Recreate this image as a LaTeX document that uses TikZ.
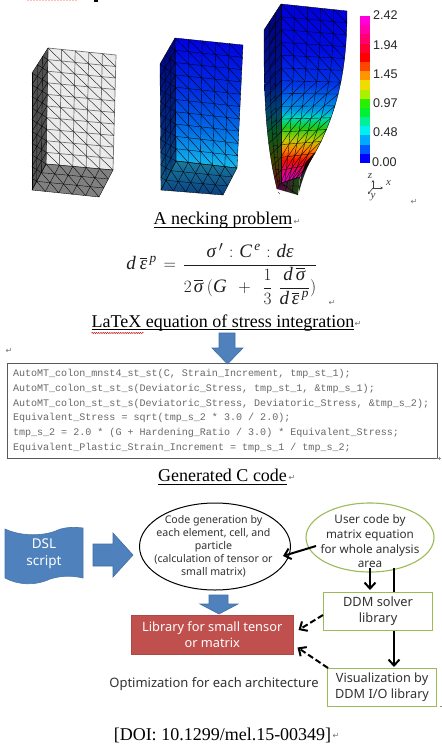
\documentclass[tikz,border=0pt]{standalone}
\usepackage{fontspec}
\usepackage{amsmath}
\setmainfont{Liberation Serif}
\setmonofont{Liberation Mono}
\newfontfamily\sansf{Noto Sans}
\newfontfamily\arialf{Liberation Sans}
\newfontfamily\symf{DejaVu Sans}
\usetikzlibrary{calc,shapes.geometric,arrows.meta,decorations.pathmorphing}
\definecolor{dslblue}{RGB}{79,129,189}
\definecolor{dsledge}{RGB}{65,110,165}
\definecolor{libred}{RGB}{192,80,77}
\definecolor{leaf}{RGB}{155,187,89}
\definecolor{txtgrey}{RGB}{50,50,50}
\definecolor{codegrey}{RGB}{105,105,105}
\pgfdeclareverticalshading{blockfront}{100bp}{rgb(0bp)=(0.08,0.74,0.93);rgb(25bp)=(0.08,0.74,0.93);rgb(40bp)=(0,0.42,0.90);rgb(55bp)=(0,0.18,0.88);rgb(75bp)=(0,0,0.88);rgb(100bp)=(0,0,0.88)}
\pgfdeclareverticalshading{blockleft}{100bp}{rgb(0bp)=(0.05,0.38,0.52);rgb(25bp)=(0.05,0.38,0.52);rgb(45bp)=(0,0.16,0.50);rgb(75bp)=(0,0,0.52);rgb(100bp)=(0,0,0.52)}
\pgfdeclareverticalshading{blockbase}{100bp}{rgb(0bp)=(0.04,0.25,0.50);rgb(25bp)=(0.04,0.25,0.50);rgb(75bp)=(0.10,0.48,0.62);rgb(100bp)=(0.10,0.48,0.62)}
\pgfdeclareverticalshading{neckfront}{100bp}{rgb(0bp)=(0.9,0,0.8);rgb(25bp)=(0.9,0,0.8);rgb(27.8bp)=(0.88,0,0.55);rgb(31.4bp)=(0.95,0.05,0);rgb(34.2bp)=(1,0.5,0);rgb(37bp)=(0.75,0.8,0);rgb(40.6bp)=(0.1,0.8,0.1);rgb(43.4bp)=(0,0.85,0.75);rgb(45.4bp)=(0,0.6,0.9);rgb(52.4bp)=(0,0.22,0.9);rgb(62bp)=(0,0.05,0.88);rgb(75bp)=(0,0,0.85);rgb(100bp)=(0,0,0.85)}
\pgfdeclareverticalshading{neckleft}{100bp}{rgb(0bp)=(0.40,0.04,0.12);rgb(25bp)=(0.40,0.04,0.12);rgb(33bp)=(0.24,0.27,0);rgb(40bp)=(0.04,0.35,0.12);rgb(46bp)=(0,0.27,0.43);rgb(54bp)=(0,0.08,0.55);rgb(75bp)=(0,0,0.5);rgb(100bp)=(0,0,0.5)}
\tikzset{
  face/.style={line width=0.35pt,draw=black},
  lightgrid/.style={line width=0.7pt,draw=black!55},
  blockarrow/.style={fill=dslblue,draw=dsledge,line width=0.6pt},
  captext/.style={font=\fontsize{18}{20}\selectfont,inner sep=0pt,text=black},
  retmark/.style={font=\symf\fontsize{8}{9}\selectfont,text=black!55,inner sep=0pt},
  barlabel/.style={font=\arialf\fontsize{12.6}{14}\selectfont,text=black!85,anchor=west,inner sep=0pt},
  axlabel/.style={font=\itshape\fontsize{11}{12}\selectfont,text=black!75,inner sep=0pt},
  axline/.style={line width=0.6pt,draw=black!75,-{Stealth[length=2.5pt,width=2.5pt]}},
  arr/.style={line width=2pt,-{Straight Barb[length=6pt,width=11pt,line width=2pt]}},
  darr/.style={arr,dash pattern=on 6pt off 3pt},
  greenbox/.style={draw=leaf,line width=1.1pt,fill=white,inner sep=0pt,anchor=north west,align=center,text=txtgrey},
}
% #1..#4 corners TL TR BR BL, #5 columns, #6 rows, #7 line style
\newcommand\gridface[7]{%
  \foreach \ii in {0,...,#5}{\pgfmathsetmacro\uu{\ii/#5}\draw[#7] ($(#1)!\uu!(#2)$) -- ($(#4)!\uu!(#3)$);}
  \foreach \jj in {0,...,#6}{\pgfmathsetmacro\vv{\jj/#6}\draw[#7] ($(#1)!\vv!(#4)$) -- ($(#2)!\vv!(#3)$);}
}
\newcommand\diagface[6]{%
  \foreach \ii in {1,...,#5}{\foreach \jj in {1,...,#6}{%
    \pgfmathsetmacro\ua{(\ii-1)/#5}\pgfmathsetmacro\ub{\ii/#5}\pgfmathsetmacro\va{(\jj-1)/#6}\pgfmathsetmacro\vb{\jj/#6}%
    \draw[face] ($($(#1)!\ua!(#2)$)!\va!($(#4)!\ua!(#3)$)$) -- ($($(#1)!\ub!(#2)$)!\vb!($(#4)!\ub!(#3)$)$);}}
}
\newcommand\capul[1]{\setbox0\hbox{#1}\rlap{\rule[-2.6pt]{\wd0}{0.9pt}}\box0}
\newcommand\mi[1]{\text{\itshape #1}}
\begin{document}
\begin{tikzpicture}[x=1pt,y=-1pt,
  declare function={
    rfx(\t)=347-47*(0.5*\t*\t+0.5*\t*\t*\t);
    rfy(\t)=11+166*\t;
    lfy(\t)=4+179*\t;
    ofx(\t)=264+13*\t*\t*\t;
    ofy(\t)=30+159*\t;
  }]
\useasboundingbox (0,0) rectangle (442,753);
\fill[white] (0,0) rectangle (442,753);
% cut-off remains at the top edge
\draw[pink,line width=1pt,dash pattern=on 2pt off 1pt] (27,0.5) -- (77,0.5);
\fill[black] (94,0) rectangle (98,1.5);

% ---------- grey block
\coordinate (a1) at (48,48); \coordinate (b1) at (116,55); \coordinate (c1) at (113,170); \coordinate (d1) at (46,164);
\coordinate (e1) at (32,73); \coordinate (f1) at (32,190); \coordinate (g1) at (99,197);
\fill[black!8] (a1)--(b1)--(c1)--(d1)--cycle;
\fill[black!68] (e1)--(a1)--(d1)--(f1)--cycle;
\fill[black!50] (d1)--(c1)--(g1)--(f1)--cycle;
\gridface{a1}{b1}{c1}{d1}{5}{10}{lightgrid}
\diagface{a1}{b1}{c1}{d1}{5}{10}
\gridface{e1}{a1}{d1}{f1}{3}{10}{face}
\diagface{e1}{a1}{d1}{f1}{3}{10}
\gridface{d1}{c1}{g1}{f1}{5}{3}{face}
\diagface{d1}{c1}{g1}{f1}{5}{3}

% ---------- blue block
\coordinate (a2) at (175,38); \coordinate (b2) at (243,45); \coordinate (c2) at (237,168); \coordinate (d2) at (176,161);
\coordinate (e2) at (160,64); \coordinate (f2) at (161,190); \coordinate (g2) at (223,195);
\shade[shading=blockfront] (a2)--(b2)--(c2)--(d2)--cycle;
\shade[shading=blockleft] (e2)--(a2)--(d2)--(f2)--cycle;
\shade[shading=blockbase] (d2)--(c2)--(g2)--(f2)--cycle;
\gridface{a2}{b2}{c2}{d2}{5}{10}{face}
\diagface{a2}{b2}{c2}{d2}{5}{10}
\gridface{e2}{a2}{d2}{f2}{3}{10}{face}
\diagface{e2}{a2}{d2}{f2}{3}{10}
\gridface{d2}{c2}{g2}{f2}{5}{3}{face}
\diagface{d2}{c2}{g2}{f2}{5}{3}

% ---------- necked block
\shade[shading=neckleft] (264,30) -- (281,4) -- (281,183) -- (277,189)
   -- plot[domain=1:0,samples=24] ({ofx(\x)},{ofy(\x)}) -- cycle;
\shade[shading=neckfront] (281,4) -- plot[domain=0:1,samples=30] ({rfx(\x)},{rfy(\x)}) -- (281,183) -- cycle;
\shade[left color={rgb,255:red,90;green,0;blue,70},right color={rgb,255:red,20;green,80;blue,10}] (281,183) -- (300,177) -- (298,195) -- (277,189) -- cycle;
% front grid
\foreach \cc in {0,...,5}{
  \draw[face] plot[domain=0:1,samples=15] ({281+(rfx(\x)-281)*\cc/5},{lfy(\x)+(rfy(\x)-lfy(\x))*\cc/5});
}
\foreach \rr in {0,...,14}{
  \pgfmathsetmacro\tq{\rr/14}
  \draw[face] (281,{lfy(\tq)}) -- ({rfx(\tq)},{rfy(\tq)});
}
\foreach \rr in {1,...,14}{\foreach \cc in {1,...,5}{
  \pgfmathsetmacro\ta{(\rr-1)/14}\pgfmathsetmacro\tb{\rr/14}
  \pgfmathsetmacro\ua{(\cc-1)/5}\pgfmathsetmacro\ub{\cc/5}
  \ifnum\rr<7
    \draw[face] ({281+(rfx(\ta)-281)*\ua},{lfy(\ta)+(rfy(\ta)-lfy(\ta))*\ua}) -- ({281+(rfx(\tb)-281)*\ub},{lfy(\tb)+(rfy(\tb)-lfy(\tb))*\ub});
  \else
    \draw[face] ({281+(rfx(\tb)-281)*\ua},{lfy(\tb)+(rfy(\tb)-lfy(\tb))*\ua}) -- ({281+(rfx(\ta)-281)*\ub},{lfy(\ta)+(rfy(\ta)-lfy(\ta))*\ub});
  \fi
}}
% left grid
\foreach \cc in {0,...,3}{
  \draw[face] plot[domain=0:1,samples=15] ({ofx(\x)+(281-ofx(\x))*\cc/3},{ofy(\x)+(lfy(\x)-ofy(\x))*\cc/3});
}
\foreach \rr in {0,...,14}{
  \pgfmathsetmacro\tq{\rr/14}
  \draw[face] ({ofx(\tq)},{ofy(\tq)}) -- (281,{lfy(\tq)});
  \draw[face] ({ofx(\tq)+(281-ofx(\tq))*0.33},{ofy(\tq)+3}) -- ({ofx(\tq)+(281-ofx(\tq))*0.66},{ofy(\tq)+(lfy(\tq)-ofy(\tq))*0.66+9});
}
\draw[face] (281,183) -- (300,177) (279,186) -- (299,186) (281,183) -- (298,195) (288,181) -- (285,191) (294,179) -- (292,193);
\fill[black,opacity=0.85] (315,152) .. controls (310,162) and (305,170) .. (299,192) .. controls (299,180) and (301,175) .. (306,162) -- cycle;

% ---------- colour bar
\foreach \cr/\cg/\cb [count=\n from 0] in {255/0/220,255/0/170,255/0/110,255/0/50,255/0/0,255/70/0,255/150/0,240/220/0,170/240/0,40/240/0,0/240/50,0/240/150,0/240/240,0/170/255,0/90/255,0/0/255}{
  \definecolor{bandc}{RGB}{\cr,\cg,\cb}
  \fill[bandc] (360,{16+\n*9.19}) rectangle (370,{16+(\n+1)*9.19});
}
\node[barlabel] (v5) at (373,15.5) {2.42};
\node[barlabel] (v4) at (373,45) {1.94};
\node[barlabel] (v3) at (373,74) {1.45};
\node[barlabel] (v2) at (373,103.5) {0.97};
\node[barlabel] (v1) at (373,132.5) {0.48};
\node[barlabel] (v0) at (372,162) {0.00};
% ---------- axes triad
\coordinate (tri) at (373,188);
\node[axlabel] (axz) at (370,175.5) {z};
\node[axlabel] (axx) at (388.5,183) {x};
\node[axlabel] (axy) at (373,197) {y};
\draw[axline] (tri) -- ($(tri)+(0,-8)$);
\draw[axline] (tri) -- ($(tri)+(10,0)$);
\draw[axline] (tri) -- ($(tri)+(-5,6)$);

% ---------- captions
\node[captext] (cap1) at (223,220.5) {\capul{A necking problem}};
\node[inner sep=0pt,text=black!88,font=\fontsize{19}{22}\selectfont] (eq) at (222,274)
  {$\mi{d}\mkern4mu\overline{\mi{ε}}^{\,\mi{p}}\mkern2mu=\mkern2mu\dfrac{\mi{σ}\,'\mkern6mu{:}\mkern6mu\mi{C}^{\,\mi{e}}\mkern6mu{:}\mkern6mu\mi{d}\mi{ε}}{2\mkern2mu\overline{\mi{σ}}\mkern4mu(\mi{G}\mkern8mu+\mkern8mu\dfrac{1}{3}\mkern6mu\dfrac{\mi{d}\,\overline{\mi{σ}}}{\mi{d}\,\overline{\mi{ε}}^{\,\mi{p}}})}$};
\node[captext] (cap2) at (223,323) {\capul{LaTeX equation of stress integration}};
\draw[red!75!black,line width=0.5pt,decorate,decoration={snake,amplitude=0.5pt,segment length=2.2pt}] ($(cap2.south west)+(0,1.5)$) -- ($(cap2.south west)+(52,1.5)$);
\node[captext] (cap3) at (222.5,477) {\capul{Generated C code}};
\node[font=\fontsize{18}{20}\selectfont,inner sep=0pt,text=black] (doi) at (222.5,735) {[DOI: 10.1299/mel.15-00349]};

% ---------- big arrow and code box
\node[draw=black!65,line width=1pt,fill=white,minimum width=430pt,minimum height=95pt,inner sep=0pt,anchor=north west,
      text=codegrey,align=left,text width=419pt,font=\ttfamily\fontsize{10.05}{14.67}\selectfont] (code) at (7,363)
 {\spaceskip=6.03pt\xspaceskip=6.03pt\relax
  AutoMT\_colon\_mnst4\_st\_st(C, Strain\_Increment, tmp\_st\_1);\\
  AutoMT\_colon\_st\_st\_s(Deviatoric\_Stress, tmp\_st\_1, \&tmp\_s\_1);\\
  AutoMT\_colon\_st\_st\_s(Deviatoric\_Stress, Deviatoric\_Stress, \&tmp\_s\_2);\\
  Equivalent\_Stress = sqrt(tmp\_s\_2 * 3.0 / 2.0);\\
  tmp\_s\_2 = 2.0 * (G + Hardening\_Ratio / 3.0) * Equivalent\_Stress;\\
  Equivalent\_Plastic\_Strain\_Increment = tmp\_s\_1 / tmp\_s\_2;};
\draw[blockarrow] (219,333) -- (235,333) -- (235,348) -- (243,348) -- (227.5,364) -- (212,348) -- (219,348) -- cycle;

% ---------- lower flow diagram
\draw[fill=dslblue,draw=dslblue!90!black,line width=0.6pt]
  (5,529) .. controls (22,537) and (45,536) .. (58,530) .. controls (65,527) and (75,527) .. (83,528)
  -- (83,578) .. controls (70,575) and (60,576) .. (50,579) .. controls (35,586) and (18,585) .. (5,578) -- cycle;
\node[font=\sansf\fontsize{13.5}{16.5}\selectfont,text=white,align=center,inner sep=0pt] (dsl) at (44,553.5) {DSL\\script};
\draw[blockarrow] (93,544) -- (113,544) -- (113,533) -- (133,555) -- (113,577) -- (113,566) -- (93,566) -- cycle;

\node[draw=black,line width=1pt,ellipse,fill=white,minimum width=151pt,minimum height=87pt,inner sep=0pt] (codegen) at (215,546.5) {};
\node[font=\sansf\fontsize{10.6}{13}\selectfont,align=center,text=txtgrey,inner sep=0pt] (codegentxt) at (213.5,546)
  {Code generation by\\each element, cell, and\\particle\\(calculation of tensor or\\small matrix)};
\node[draw=leaf,line width=1.1pt,ellipse,fill=white,minimum width=128pt,minimum height=69pt,inner sep=0pt] (user) at (370,537.5) {};
\node[font=\sansf\fontsize{11.7}{14.7}\selectfont,align=center,text=txtgrey,inner sep=0pt] (usertxt) at (370,541.5)
  {User code by\\matrix equation\\for whole analysis\\area};
\draw[blockarrow] (209,595) -- (228,595) -- (228,604) -- (238,604) -- (219,614) -- (200,604) -- (209,604) -- cycle;
\node[fill=libred,draw=libred!90!black,line width=0.5pt,minimum width=162pt,minimum height=39pt,inner sep=0pt,anchor=north west,
      text=white,align=center,font=\sansf\fontsize{12.8}{16}\selectfont] (lib) at (131,615) {Library for small tensor\\or matrix};
\node[greenbox,minimum width=109pt,minimum height=38pt,font=\sansf\fontsize{12.8}{16}\selectfont] (ddm) at (323,592) {DDM solver\\library};
\node[greenbox,minimum width=109pt,minimum height=38pt,font=\sansf\fontsize{12.7}{16}\selectfont] (vis) at (327,668) {Visualization by\\DDM I/O library};
\node[font=\sansf\fontsize{13}{16}\selectfont,text=txtgrey,inner sep=0pt] (opt) at (214,684) {Optimization for each architecture};

\draw[arr] ($(user)+(-54,8.5)$) -- ($(codegen)+(68,9.5)$);
\draw[arr] ($(user)+(0,30.5)$) -- ($(ddm.north west)+(47,-2)$);
\draw[line width=2pt] ($(user)+(24,30.5)$) -- ($(ddm.north west)+(71,0)$);
\draw[arr] ($(ddm.south west)+(71,0)$) -- ($(vis.north west)+(67,-1)$);
\draw[darr] ($(ddm.north west)+(0,23)$) -- ($(lib.north east)+(5,15)$);
\draw[darr] ($(vis.north west)+(1,0)$) -- ($(lib.south east)+(4,-7)$);

% ---------- paragraph marks
\node[retmark] (r1) at (414,202) {↵};
\node[retmark] (r2) at (297,221.5) {↵};
\node[retmark] (r3) at (332,303) {↵};
\node[retmark] (r4) at (358,324) {↵};
\node[retmark] (r5) at (9,351) {↵};
\node[retmark] (r6) at (292,478) {↵};
\node[retmark] (r7) at (336,736) {↵};
\draw[black!45,line width=0.4pt] (437,458) -- (441,458) (439.5,456.5) -- (439.5,459.5);
\draw[black!45,line width=0.4pt] (439.5,706) -- (442,706);
\end{tikzpicture}
\end{document}
